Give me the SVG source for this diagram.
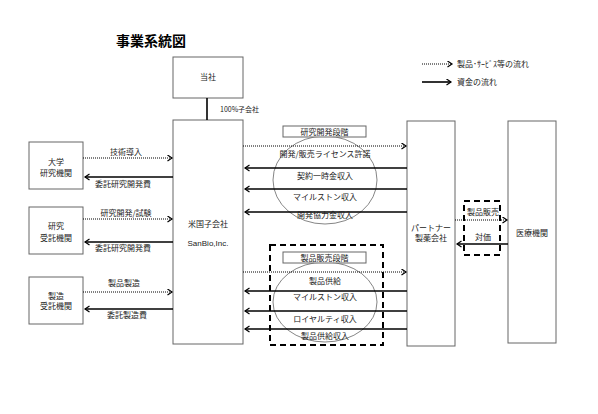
<svg xmlns="http://www.w3.org/2000/svg" width="598" height="414" viewBox="0 0 598 414">
<defs>
<style>
text{font-family:"Noto Sans CJK JP","Liberation Sans",sans-serif;font-size:8px;fill:#222;text-anchor:middle}
.box{fill:#fff;stroke:#666;stroke-width:1}
.dot{stroke:#000;stroke-width:1;stroke-dasharray:1 1;fill:none}
.sol{stroke:#000;stroke-width:1.6;fill:none}
.dash{fill:none;stroke:#000;stroke-width:2;stroke-dasharray:6 4}
.ell{fill:none;stroke:#666;stroke-width:0.8}
</style>
<marker id="ah" markerUnits="userSpaceOnUse" markerWidth="8" markerHeight="8" refX="5" refY="3.5" orient="auto">
<path d="M0.5,0.5 L5,3.5 L0.5,6.5" fill="none" stroke="#000" stroke-width="1.2"/>
</marker>
</defs>
<rect width="598" height="414" fill="#fff"/>
<text x="151" y="46" style="font-size:14px;font-weight:bold;fill:#000">事業系統図</text>

<g id="legend">
<line class="dot" x1="422" y1="64" x2="452" y2="64" marker-end="url(#ah)"/>
<text x="457" y="67" style="text-anchor:start">製品･ｻｰﾋﾞｽ等の流れ</text>
<line class="sol" x1="422" y1="82" x2="451" y2="82" marker-end="url(#ah)"/>
<text x="457" y="85" style="text-anchor:start">資金の流れ</text>
</g>

<g id="parent">
<rect class="box" x="173" y="57" width="70" height="41"/>
<text x="208" y="80">当社</text>
</g>
<g id="subsidiary">
<rect class="box" x="173" y="120" width="70" height="224"/>
<text x="208" y="227">米国子会社</text>
<text x="208" y="246" style="font-family:'Liberation Sans',sans-serif">SanBio,Inc.</text>
</g>
<g id="univ">
<rect class="box" x="29" y="142" width="54" height="47"/>
<text x="56" y="165">大学</text>
<text x="56" y="176">研究機関</text>
</g>
<g id="cro">
<rect class="box" x="29" y="207" width="54" height="47"/>
<text x="56" y="229">研究</text>
<text x="56" y="241">受託機関</text>
</g>
<g id="cmo">
<rect class="box" x="29" y="277" width="54" height="47"/>
<text x="56" y="299">製造</text>
<text x="56" y="309">受託機関</text>
</g>
<g id="partner">
<rect class="box" x="407" y="121" width="48" height="225"/>
<text x="431" y="231">パートナー</text>
<text x="431" y="241">製薬会社</text>
</g>
<g id="medical">
<rect class="box" x="508" y="121" width="48" height="222"/>
<text x="532" y="236">医療機関</text>
</g>

<g id="dev-stage">
<ellipse class="ell" cx="325" cy="180" rx="52" ry="44"/>
<rect class="box" x="283" y="126" width="83" height="11"/>
<text x="324.5" y="134.5">研究開発段階</text>
</g>
<g id="sales-stage">
<rect class="dash" x="270" y="245" width="113" height="100"/>
<ellipse class="ell" cx="325" cy="302" rx="52" ry="40"/>
<rect class="box" x="283" y="252" width="83" height="11"/>
<text x="324.5" y="260.5">製品販売段階</text>
</g>
<g id="sales-box">
<rect class="dash" x="464" y="201" width="36" height="54"/>
</g>

<g id="connectors">
<line class="sol" x1="207" y1="98" x2="207" y2="120"/>
<text x="220" y="112" style="text-anchor:start;font-size:7px">100%子会社</text>

<line class="dot" x1="83" y1="158" x2="172" y2="158" marker-end="url(#ah)"/>
<text x="126" y="155">技術導入</text>
<line class="sol" x1="173" y1="177" x2="85" y2="177" marker-end="url(#ah)"/>
<text x="123" y="187">委託研究開発費</text>

<line class="dot" x1="83" y1="219" x2="172" y2="219" marker-end="url(#ah)"/>
<text x="126" y="216">研究開発/試験</text>
<line class="sol" x1="173" y1="242" x2="85" y2="242" marker-end="url(#ah)"/>
<text x="123" y="251">委託研究開発費</text>

<line class="dot" x1="83" y1="292" x2="172" y2="292" marker-end="url(#ah)"/>
<text x="124" y="286">製品製造</text>
<line class="sol" x1="173" y1="309" x2="85" y2="309" marker-end="url(#ah)"/>
<text x="127" y="318">委託製造費</text>

<line class="dot" x1="243" y1="146" x2="406" y2="146" marker-end="url(#ah)"/>
<text x="325" y="157">開発/販売ライセンス許諾</text>
<line class="sol" x1="407" y1="168" x2="245" y2="168" marker-end="url(#ah)"/>
<text x="325" y="179">契約一時金収入</text>
<line class="sol" x1="407" y1="189" x2="245" y2="189" marker-end="url(#ah)"/>
<text x="325" y="200">マイルストン収入</text>
<line class="sol" x1="407" y1="212" x2="245" y2="212" marker-end="url(#ah)"/>
<text x="325" y="218">開発協力金収入</text>

<line class="dot" x1="243" y1="272" x2="406" y2="272" marker-end="url(#ah)"/>
<text x="325" y="284">製品供給</text>
<line class="sol" x1="407" y1="291" x2="245" y2="291" marker-end="url(#ah)"/>
<text x="325" y="300">マイルストン収入</text>
<line class="sol" x1="407" y1="311" x2="245" y2="311" marker-end="url(#ah)"/>
<text x="325" y="322">ロイヤルティ収入</text>
<line class="sol" x1="407" y1="329" x2="245" y2="329" marker-end="url(#ah)"/>
<text x="325" y="339">製品供給収入</text>

<line class="dot" x1="455" y1="220" x2="507" y2="220" marker-end="url(#ah)"/>
<text x="483" y="215">製品販売</text>
<line class="sol" x1="508" y1="244" x2="457" y2="244" marker-end="url(#ah)"/>
<text x="483" y="240">対価</text>
</g>
</svg>
